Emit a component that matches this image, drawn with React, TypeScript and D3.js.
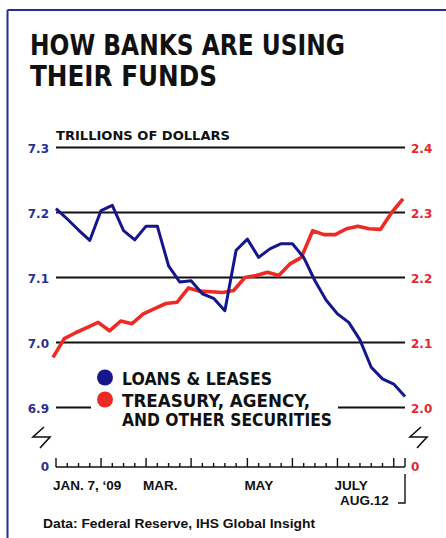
import React from "react";
import * as d3 from "d3";

// ---- data (weekly, Jan 7 2009 .. Aug 12 2009) ----
const weeks: number[] = d3.range(0, 32);
const loansLeases: number[] = [
  7.206, 7.19, 7.173, 7.157, 7.203, 7.211, 7.172, 7.158, 7.179, 7.179,
  7.118, 7.093, 7.095, 7.075, 7.068, 7.049, 7.142, 7.159, 7.131, 7.144,
  7.152, 7.152, 7.131, 7.095, 7.065, 7.044, 7.031, 7.004, 6.962, 6.944,
  6.936, 6.917,
];
const securities: number[] = [
  2.077, 2.106, 2.115, 2.123, 2.131, 2.118, 2.133, 2.129, 2.144, 2.152,
  2.16, 2.162, 2.184, 2.179, 2.178, 2.177, 2.18, 2.2, 2.203, 2.208,
  2.203, 2.221, 2.231, 2.272, 2.266, 2.266, 2.275, 2.279, 2.275, 2.274,
  2.3, 2.321,
];
const leftTicks: number[] = [7.3, 7.2, 7.1, 7.0, 6.9];
const rightTicks: number[] = [2.4, 2.3, 2.2, 2.1, 2.0];
const tallTickWeeks: number[] = [0, 4, 8, 12, 17, 21, 25, 30];
const monthLabels: string[] = ["JAN. 7, \u201809", "MAR.", "MAY", "JULY"];
const monthLabelWeeks: number[] = [0, 8, 17, 25];
const legendLabels: string[] = ["LOANS & LEASES", "TREASURY, AGENCY,", "AND OTHER SECURITIES"];

const BLUE = "#16168c";
const RED = "#ee2a24";
const BLUE_TXT = "#2b2f8f";
const RED_TXT = "#e3282c";

export default function App() {
  const W = 446;
  const H = 538;
  const x0 = 56;
  const x1 = 405;
  const xB = d3.scaleLinear().domain([0, 31]).range([x0, x1]);
  const xR = d3.scaleLinear().domain([0, 31]).range([53, 403]);
  const yL = d3.scaleLinear().domain([6.9, 7.3]).range([407.5, 147.5]);
  const yR = d3.scaleLinear().domain([2.0, 2.4]).range([407.5, 147.5]);

  const blueLine = d3
    .line<number>()
    .x((_, i) => xB(weeks[i]))
    .y((d) => yL(d))
    .curve(d3.curveLinear)(loansLeases) as string;
  const redLine = d3
    .line<number>()
    .x((_, i) => xR(weeks[i]))
    .y((d) => yR(d))
    .curve(d3.curveLinear)(securities) as string;

  const axisY = 467;

  return (
    <svg
      width={W}
      height={H}
      style={{ position: "absolute", left: 0, top: 0, background: "#fff" }}
    >
      <rect x={0} y={0} width={W} height={H} fill="#fff" />
      {/* frame */}
      <line x1={7.5} y1={10} x2={W} y2={10} stroke="#2a2a9a" strokeWidth={2} />
      <line x1={7.5} y1={10} x2={7.5} y2={H} stroke="#2a2a9a" strokeWidth={2} />

      {/* title */}
      <text
        x={30}
        y={55}
        fontFamily="'DejaVu Sans Condensed', 'DejaVu Sans', sans-serif"
        fontWeight="bold"
        fontSize={29}
        fill="#111"
        textLength={315}
        lengthAdjust="spacingAndGlyphs"
      >
        HOW BANKS ARE USING
      </text>
      <text
        x={30}
        y={86}
        fontFamily="'DejaVu Sans Condensed', 'DejaVu Sans', sans-serif"
        fontWeight="bold"
        fontSize={29}
        fill="#111"
        textLength={187}
        lengthAdjust="spacingAndGlyphs"
      >
        THEIR FUNDS
      </text>

      <text
        x={56}
        y={140}
        fontFamily="'DejaVu Sans', sans-serif"
        fontWeight="bold"
        fontSize={12}
        fill="#111"
        textLength={174}
        lengthAdjust="spacingAndGlyphs"
      >
        TRILLIONS OF DOLLARS
      </text>

      {/* gridlines */}
      {leftTicks.map((t) =>
        t > 6.95 ? (
          <line key={"g" + t} x1={x0} x2={x1} y1={yL(t)} y2={yL(t)} stroke="#111" strokeWidth={2} />
        ) : (
          <g key={"g" + t}>
            <line x1={x0} x2={91} y1={yL(t)} y2={yL(t)} stroke="#111" strokeWidth={2} />
            <line x1={338} x2={x1} y1={yL(t)} y2={yL(t)} stroke="#111" strokeWidth={2} />
          </g>
        )
      )}

      {/* left labels */}
      {leftTicks.map((t) => (
        <text
          key={"l" + t}
          x={49}
          y={yL(t) + 5}
          textAnchor="end"
          fontFamily="'DejaVu Sans', sans-serif"
          fontWeight="bold"
          fontSize={12}
          fill={BLUE_TXT}
        >
          {t.toFixed(1)}
        </text>
      ))}
      {/* right labels */}
      {rightTicks.map((t) => (
        <text
          key={"r" + t}
          x={411}
          y={yR(t) + 5}
          textAnchor="start"
          fontFamily="'DejaVu Sans', sans-serif"
          fontWeight="bold"
          fontSize={12}
          fill={RED_TXT}
        >
          {t.toFixed(1)}
        </text>
      ))}

      {/* lines */}
      <path d={redLine} fill="none" stroke={RED} strokeWidth={3.6} strokeLinejoin="round" />
      <path d={blueLine} fill="none" stroke={BLUE} strokeWidth={3} strokeLinejoin="round" />

      {/* legend */}
      <circle cx={105} cy={377.5} r={8} fill={BLUE} />
      <circle cx={105} cy={399.5} r={8} fill={RED} />
      {legendLabels.map((s, i) => (
        <text
          key={s}
          x={122}
          y={[385, 406.5, 425.5][i]}
          fontFamily="'DejaVu Sans', sans-serif"
          fontWeight="bold"
          fontSize={17}
          fill="#111"
          textLength={[150, 188, 210][i]}
          lengthAdjust="spacingAndGlyphs"
        >
          {s}
        </text>
      ))}

      {/* break symbols */}
      <path d="M44,427 L33,437 L50,437 L40,448" fill="none" stroke="#111" strokeWidth={1.6} />
      <path d="M421,427 L410,437 L427,437 L417,448" fill="none" stroke="#111" strokeWidth={1.6} />

      {/* zero axis */}
      <line x1={x0} x2={x1} y1={axisY} y2={axisY} stroke="#111" strokeWidth={1.6} />
      {weeks.map((w) => (
        <line
          key={"t" + w}
          x1={xB(w)}
          x2={xB(w)}
          y1={axisY}
          y2={axisY - (tallTickWeeks.includes(w) || w === 31 ? 9 : 4)}
          stroke="#111"
          strokeWidth={1.4}
        />
      ))}
      <text x={49} y={471} textAnchor="end" fontFamily="'DejaVu Sans', sans-serif" fontWeight="bold" fontSize={12} fill={BLUE_TXT}>
        0
      </text>
      <text x={411} y={471} fontFamily="'DejaVu Sans', sans-serif" fontWeight="bold" fontSize={12} fill={RED_TXT}>
        0
      </text>
      {monthLabels.map((m, i) => (
        <text
          key={m}
          x={xB(monthLabelWeeks[i]) - 3}
          y={490}
          fontFamily="'Liberation Sans', Arial, sans-serif"
          fontWeight="bold"
          fontSize={13.5}
          fill="#111"
        >
          {m}
        </text>
      ))}
      <text x={340} y={505} fontFamily="'Liberation Sans', Arial, sans-serif" fontWeight="bold" fontSize={13.5} fill="#111">
        AUG.12
      </text>
      <path d={`M${x1},474 L${x1},503 L398,503`} fill="none" stroke="#111" strokeWidth={1.4} />

      {/* source */}
      <text
        x={43}
        y={528}
        fontFamily="'Liberation Sans', Arial, sans-serif"
        fontWeight="bold"
        fontSize={12}
        fill="#111"
        textLength={272}
        lengthAdjust="spacingAndGlyphs"
      >
        Data: Federal Reserve, IHS Global Insight
      </text>
    </svg>
  );
}
